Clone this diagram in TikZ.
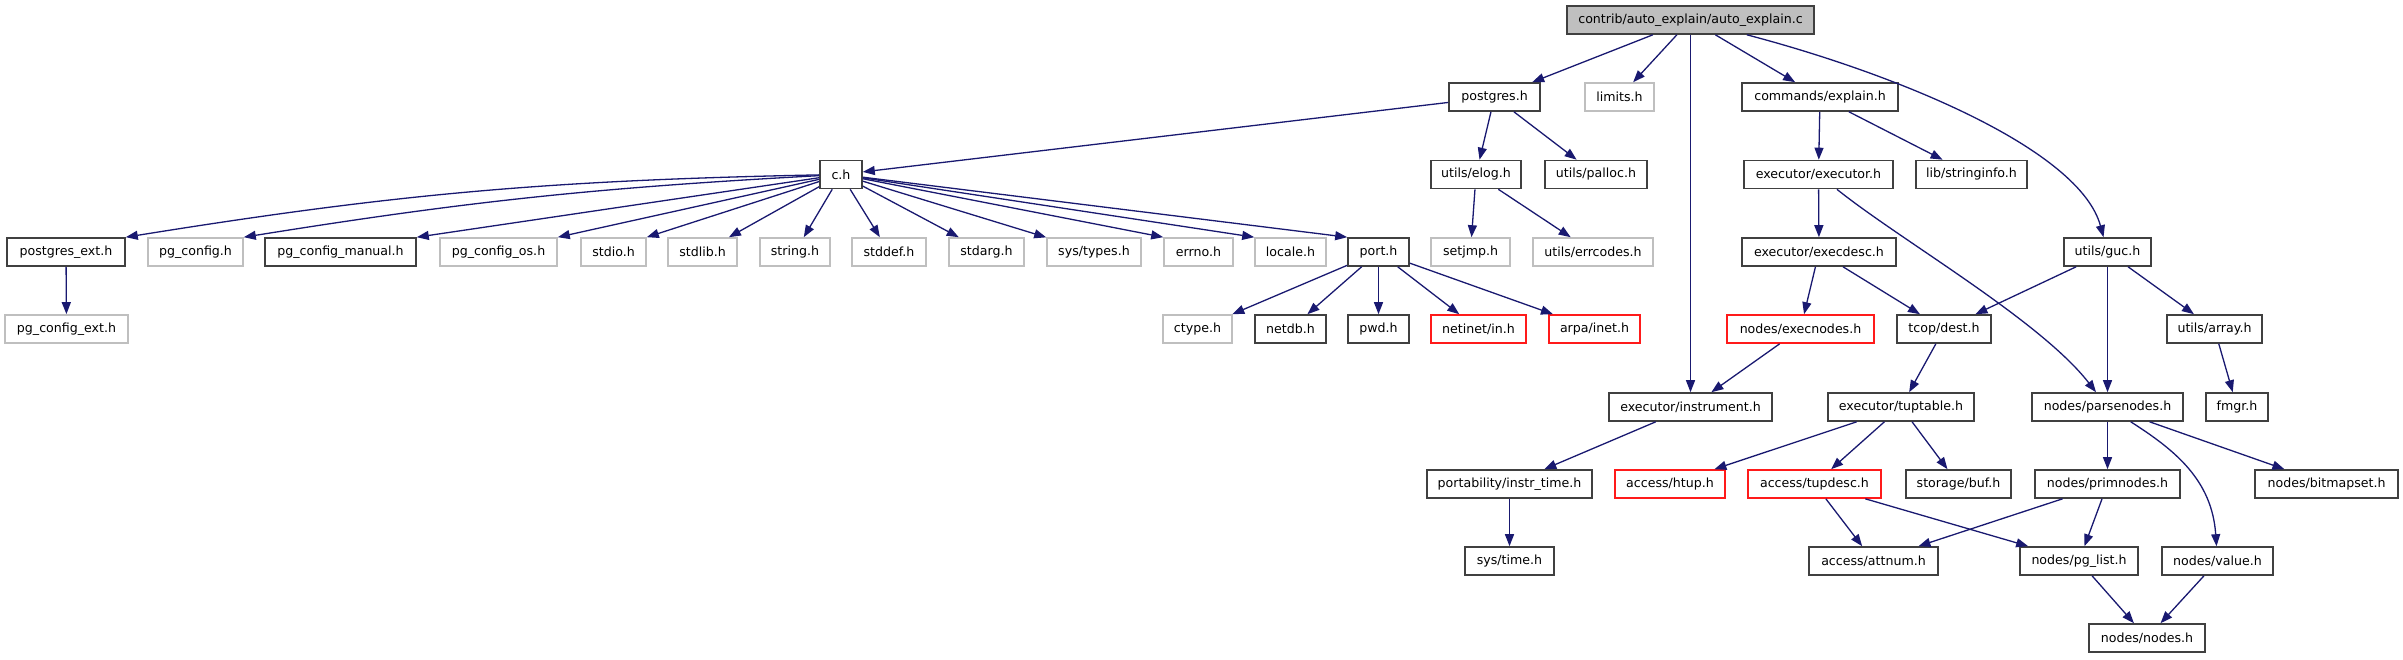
\documentclass[tikz,border=0pt]{standalone}
\usepackage{fontspec}
\setmainfont{DejaVu Sans}
\usetikzlibrary{arrows.meta}
\definecolor{edgec}{HTML}{191970}
\definecolor{dkc}{HTML}{404040}
\definecolor{ltc}{HTML}{BFBFBF}
\definecolor{rdc}{HTML}{FF1A1A}
\definecolor{rootfill}{HTML}{BFBFBF}
\begin{document}
\begin{tikzpicture}[x=1pt,y=-1pt,
 box/.style={rectangle, draw, line width=1.6pt, fill=white, minimum height=28pt, inner sep=0pt, font=\fontsize{12.6}{15}\selectfont},
 dk/.style={box, draw=dkc},
 lt/.style={box, draw=ltc},
 rd/.style={box, draw=rdc},
 rootbox/.style={box, draw=dkc, fill=rootfill},
 edge/.style={draw=edgec, line width=1.3pt, -{Triangle[length=12pt,width=9pt]}}
]
\useasboundingbox (0,0) rectangle (2403,659);
% rank 0
\node[rootbox, minimum width=247pt] (root) at (1690.5,20) {contrib/auto\_explain/auto\_explain.c};
% rank 1
\node[dk, minimum width=91pt] (postgres) at (1494.5,97) {postgres.h};
\node[lt, minimum width=69pt] (limits) at (1619.5,97) {limits.h};
\node[dk, minimum width=156pt] (explain) at (1820,97) {commands/explain.h};
% rank 2
\node[dk, minimum width=42pt] (ch) at (841,174.5) {c.h};
\node[dk, minimum width=90pt] (elog) at (1476,174.5) {utils/elog.h};
\node[dk, minimum width=102pt] (palloc) at (1596,174.5) {utils/palloc.h};
\node[dk, minimum width=149pt] (executor) at (1818.5,174.5) {executor/executor.h};
\node[dk, minimum width=111pt] (stringinfo) at (1971.5,174.5) {lib/stringinfo.h};
% rank 3
\node[dk, minimum width=118pt] (pgext) at (66,252) {postgres\_ext.h};
\node[lt, minimum width=95pt] (pgconfig) at (195.5,252) {pg\_config.h};
\node[dk, minimum width=151pt] (pgmanual) at (340.5,252) {pg\_config\_manual.h};
\node[lt, minimum width=117pt] (pgos) at (498.5,252) {pg\_config\_os.h};
\node[lt, minimum width=65pt] (stdio) at (613.5,252) {stdio.h};
\node[lt, minimum width=69pt] (stdlib) at (702.5,252) {stdlib.h};
\node[lt, minimum width=70pt] (string) at (795,252) {string.h};
\node[lt, minimum width=74pt] (stddef) at (889,252) {stddef.h};
\node[lt, minimum width=75pt] (stdarg) at (986.5,252) {stdarg.h};
\node[lt, minimum width=94pt] (systypes) at (1094,252) {sys/types.h};
\node[lt, minimum width=69pt] (errno) at (1198.5,252) {errno.h};
\node[lt, minimum width=71pt] (locale) at (1290.5,252) {locale.h};
\node[dk, minimum width=61pt] (port) at (1378.5,252) {port.h};
\node[lt, minimum width=79pt] (setjmp) at (1470.5,252) {setjmp.h};
\node[lt, minimum width=120pt] (errcodes) at (1593,252) {utils/errcodes.h};
\node[dk, minimum width=154pt] (execdesc) at (1819,252) {executor/execdesc.h};
\node[dk, minimum width=87pt] (guc) at (2107.5,252) {utils/guc.h};
% rank 4
\node[lt, minimum width=123pt] (pgcfgext) at (66.5,329) {pg\_config\_ext.h};
\node[lt, minimum width=69pt] (ctype) at (1197.5,329) {ctype.h};
\node[dk, minimum width=71pt] (netdb) at (1290.5,329) {netdb.h};
\node[dk, minimum width=61pt] (pwd) at (1378.5,329) {pwd.h};
\node[rd, minimum width=95pt] (netinet) at (1478.5,329) {netinet/in.h};
\node[rd, minimum width=91pt] (arpa) at (1594.5,329) {arpa/inet.h};
\node[rd, minimum width=147pt] (execnodes) at (1800.5,329) {nodes/execnodes.h};
\node[dk, minimum width=94pt] (dest) at (1944,329) {tcop/dest.h};
\node[dk, minimum width=95pt] (array) at (2214.5,329) {utils/array.h};
% rank 5
\node[dk, minimum width=163pt] (instrument) at (1690.5,407) {executor/instrument.h};
\node[dk, minimum width=146pt] (tuptable) at (1901,407) {executor/tuptable.h};
\node[dk, minimum width=151pt] (parsenodes) at (2107.5,407) {nodes/parsenodes.h};
\node[dk, minimum width=62pt] (fmgr) at (2237,407) {fmgr.h};
% rank 6
\node[dk, minimum width=165pt] (instrtime) at (1509.5,484) {portability/instr\_time.h};
\node[rd, minimum width=110pt] (htup) at (1670,484) {access/htup.h};
\node[rd, minimum width=133pt] (tupdesc) at (1814.5,484) {access/tupdesc.h};
\node[dk, minimum width=105pt] (buf) at (1958.5,484) {storage/buf.h};
\node[dk, minimum width=145pt] (primnodes) at (2107.5,484) {nodes/primnodes.h};
\node[dk, minimum width=143pt] (bitmapset) at (2326.5,484) {nodes/bitmapset.h};
% rank 7
\node[dk, minimum width=89pt] (systime) at (1509.5,561) {sys/time.h};
\node[dk, minimum width=129pt] (attnum) at (1873.5,561) {access/attnum.h};
\node[dk, minimum width=118pt] (pglist) at (2079,561) {nodes/pg\_list.h};
\node[dk, minimum width=111pt] (value) at (2217.5,561) {nodes/value.h};
% rank 8
\node[dk, minimum width=116pt] (nodes) at (2147,638) {nodes/nodes.h};

% edges
\draw[edge] (root) -- (postgres);
\draw[edge] (root) -- (limits);
\draw[edge] (root) -- (instrument);
\draw[edge] (root) -- (explain);
\draw[edge] (root) .. controls (1900,75) and (2080,150) .. (guc);
\draw[edge] (postgres) -- (ch);
\draw[edge] (postgres) -- (elog);
\draw[edge] (postgres) -- (palloc);
\draw[edge] (explain) -- (executor);
\draw[edge] (explain) -- (stringinfo);
\draw[edge] (executor) -- (execdesc);
\draw[edge] (executor) .. controls (1900,240) and (2040,320) .. (parsenodes);
\draw[edge] (elog) -- (setjmp);
\draw[edge] (elog) -- (errcodes);
\draw[edge] (ch) to[bend right=4] (pgext.north east);
\draw[edge] (ch) to[bend right=3] (pgconfig.north east);
\draw[edge] (ch) -- (pgmanual.north east);
\draw[edge] (ch) -- (pgos.north east);
\draw[edge] (ch) -- (stdio.north east);
\draw[edge] (ch) -- (stdlib);
\draw[edge] (ch) -- (string);
\draw[edge] (ch) -- (stddef);
\draw[edge] (ch) -- (stdarg);
\draw[edge] (ch) -- (systypes);
\draw[edge] (ch) -- (errno.north west);
\draw[edge] (ch) -- (locale.north west);
\draw[edge] (ch) -- (port.north west);
\draw[edge] (pgext) -- (pgcfgext);
\draw[edge] (port) -- (ctype);
\draw[edge] (port) -- (netdb);
\draw[edge] (port) -- (pwd);
\draw[edge] (port) -- (netinet);
\draw[edge] (port) -- (arpa);
\draw[edge] (execdesc) -- (execnodes);
\draw[edge] (execdesc) -- (dest);
\draw[edge] (guc) -- (dest);
\draw[edge] (guc) -- (parsenodes);
\draw[edge] (guc) -- (array);
\draw[edge] (execnodes) -- (instrument);
\draw[edge] (dest) -- (tuptable);
\draw[edge] (array) -- (fmgr);
\draw[edge] (instrument) -- (instrtime);
\draw[edge] (instrtime) -- (systime);
\draw[edge] (tuptable) -- (htup);
\draw[edge] (tuptable) -- (tupdesc);
\draw[edge] (tuptable) -- (buf);
\draw[edge] (parsenodes) -- (primnodes);
\draw[edge] (parsenodes) .. controls (2175,450) and (2212,480) .. (value);
\draw[edge] (parsenodes) -- (bitmapset);
\draw[edge] (tupdesc) -- (attnum);
\draw[edge] (tupdesc) -- (pglist);
\draw[edge] (primnodes) -- (attnum);
\draw[edge] (primnodes) -- (pglist);
\draw[edge] (pglist) -- (nodes);
\draw[edge] (value) -- (nodes);
\end{tikzpicture}
\end{document}
